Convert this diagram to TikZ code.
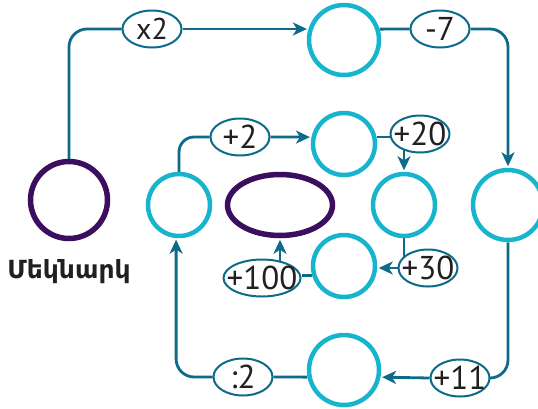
\documentclass[tikz,border=0pt]{standalone}
\usepackage{fontspec}
\setmainfont{PT Sans}
\newfontfamily\armfont{DejaVu Sans}
\usetikzlibrary{shapes.geometric,arrows.meta,backgrounds}
\definecolor{cy}{HTML}{17B4CE}
\definecolor{tl}{HTML}{0D6B89}
\definecolor{pu}{HTML}{3C0F5E}
\definecolor{tx}{HTML}{231F20}
\begin{document}
\begin{tikzpicture}[x=1pt,y=-1pt,
 cyc/.style={circle,draw=cy,line width=4.5pt,inner sep=0pt},
 bigc/.style={cyc,minimum size=70pt},
 smallc/.style={cyc,minimum size=62pt},
 opn/.style={ellipse,draw=tl,line width=2pt,fill=white,inner sep=0pt,minimum width=59pt,minimum height=37pt,font=\fontsize{33}{33}\selectfont,text=tx},
 conn/.style={draw=tl,line width=2.8pt},
 arr/.style={conn,-{Stealth[length=14pt,width=13pt,inset=4pt]},shorten >=1.5pt},
 rc/.style={rounded corners=18pt},
]
\useasboundingbox (0,0) rectangle (538,408);
% nodes
\node[cyc,minimum size=77pt,draw=pu,line width=5.5pt] (start) at (69,200) {};
\node[anchor=base,font=\armfont\bfseries\fontsize{25}{25}\selectfont,text=tx] (lbl) at (69,278) {Մեկնարկ};
\node[opn,font=\fontsize{30}{30}\selectfont] (x2) at (152,29) {\makebox[0pt]{x2}};
\node[bigc] (top) at (344,40) {};
\node[opn] (m7) at (440,29) {\makebox[0pt]{-7}};
\node[bigc] (right) at (508,205) {};
\node[opn] (p11) at (460,378) {\makebox[0pt]{+11}};
\node[bigc] (bot) at (344,370) {};
\node[opn] (d2) at (243,377) {\makebox[0pt]{:2}};
\node[smallc] (lm) at (179,205) {};
\node[opn] (pp2) at (240,137) {\makebox[0pt]{+2}};
\node[smallc] (um) at (344,144) {};
\node[opn] (p20) at (420,134) {\makebox[0pt]{+20}};
\node[smallc] (rm) at (404,205) {};
\node[opn] (p30) at (428,268) {\makebox[0pt]{+30}};
\node[smallc] (lm2) at (344,266) {};
\node[opn,minimum width=77pt] (p100) at (262,278) {\makebox[0pt]{+100}};
\node[ellipse,draw=pu,line width=5.5pt,minimum width=105pt,minimum height=61pt,inner sep=0pt] (pe) at (280,205) {};
% connectors
\begin{scope}[on background layer]
\draw[conn,rc] (start.north) |- (x2.west);
\draw[arr] (x2.east) -- (x2.east -| top.163);
\draw[conn] (top.17) -- (m7.west);
\draw[arr,rc] (m7.east) -| (right.north);
\draw[conn,rc] (right.south) |- (p11.east);
\draw[arr] (p11.west) -- (bot.-11);
\draw[conn] (bot.191) -- (d2.east);
\draw[arr,rc] (d2.west) -| (lm.265);
\draw[conn,rounded corners=15pt] (lm.north) |- (pp2.west);
\draw[arr] (pp2.east) -- (um.168);
\draw[conn] (um.12) -- (p20.west |- um.12);
\draw[arr] (rm.north |- p20.center) -- (rm.north);
\draw[conn] (rm.south) -- (rm.south |- p30.center);
\draw[arr] (p30.west) -- (p30.west -| lm2.east);
\draw[conn] (lm2.197) -- (p100.east |- lm2.197);
\draw[arr] (pe.south |- p100.center) -- (pe.south);
\end{scope}
\end{tikzpicture}
\end{document}
